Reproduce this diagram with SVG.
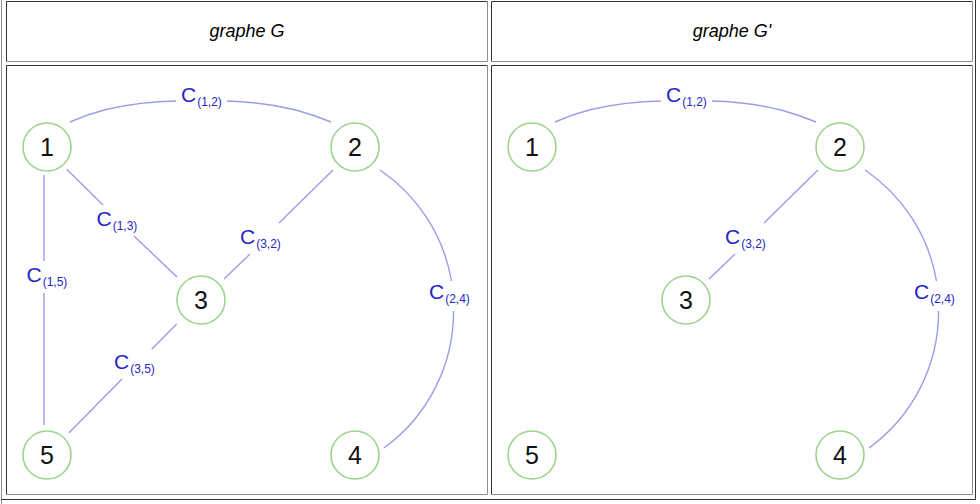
<svg xmlns="http://www.w3.org/2000/svg" width="980" height="504" viewBox="0 0 980 504">
<style>
.bg{fill:#ffffff}
.dk{stroke:#333333;stroke-width:1;fill:none}
.lt{stroke:#8e8e8e;stroke-width:1;fill:none}
.hdr{font-family:"Liberation Sans",Arial,sans-serif;font-style:italic;font-size:18px;fill:#000;text-anchor:middle}
.node circle{fill:#ffffff;stroke:#9bd58d;stroke-width:1.6}
.node text{font-family:"Liberation Sans",Arial,sans-serif;font-size:25px;fill:#111111;text-anchor:middle}
.edge path{fill:none;stroke:#9c9ce8;stroke-width:1.4}
.lbl{font-family:"Liberation Sans",Arial,sans-serif;font-size:21px;fill:#2525c8}
.sub{font-size:12px}
</style>
<rect class="bg" x="0" y="0" width="980" height="504"/>
<g id="table">
  <path class="lt" d="M1.5,504 V0"/>
  <path class="dk" d="M975.5,0 V499.5 H1"/>
  <path class="dk" d="M6.5,61.5 V1.5 H487.5"/>
  <path class="lt" d="M487.5,1.5 V61.5 H6.5"/>
  <path class="dk" d="M491.5,61.5 V1.5 H972.5"/>
  <path class="lt" d="M972.5,1.5 V61.5 H491.5"/>
  <path class="dk" d="M6.5,494.5 V65.5 H487.5"/>
  <path class="lt" d="M487.5,65.5 V494.5 H6.5"/>
  <path class="dk" d="M491.5,494.5 V65.5 H972.5"/>
  <path class="lt" d="M972.5,65.5 V494.5 H491.5"/>
  <text class="hdr" x="247" y="37">graphe G</text>
  <text class="hdr" x="732" y="37">graphe G'</text>
</g>
<g id="connectors">
  <g id="G-e12" class="edge">
    <path d="M70,122 Q88,114 106,109.5 Q141,101.5 176,101"/>
    <path d="M227,101 Q264,102 296,110 Q314,115 331,122"/>
    <text class="lbl" x="181" y="102">C<tspan class="sub" dx="1" dy="4">(1,2)</tspan></text>
  </g>
  <g id="G-e13" class="edge">
    <path d="M66.7,169.3 L103,205"/>
    <path d="M134,236 L177,277"/>
    <text class="lbl" x="96.5" y="226">C<tspan class="sub" dx="1" dy="4">(1,3)</tspan></text>
  </g>
  <g id="G-e15" class="edge">
    <path d="M44,175 V261"/>
    <path d="M44,293 V425"/>
    <text class="lbl" x="26.5" y="282">C<tspan class="sub" dx="1" dy="4">(1,5)</tspan></text>
  </g>
  <g id="G-e32" class="edge">
    <path d="M224,279 L250,254"/>
    <path d="M279,223 L333,170"/>
    <text class="lbl" x="240" y="244">C<tspan class="sub" dx="1" dy="4">(3,2)</tspan></text>
  </g>
  <g id="G-e35" class="edge">
    <path d="M176.7,324 L151.7,349.3"/>
    <path d="M122,379 L69,432.7"/>
    <text class="lbl" x="114" y="369">C<tspan class="sub" dx="1" dy="4">(3,5)</tspan></text>
  </g>
  <g id="G-e24" class="edge">
    <path d="M380,170 A169,169 0 0 1 451.5,281"/>
    <path d="M453.6,311 A169,169 0 0 1 384,448"/>
    <text class="lbl" x="429" y="299">C<tspan class="sub" dx="1" dy="4">(2,4)</tspan></text>
  </g>
  <g id="Gp-e12" class="edge" transform="translate(485,0)">
    <path d="M70,122 Q88,114 106,109.5 Q141,101.5 176,101"/>
    <path d="M227,101 Q264,102 296,110 Q314,115 331,122"/>
    <text class="lbl" x="181" y="102">C<tspan class="sub" dx="1" dy="4">(1,2)</tspan></text>
  </g>
  <g id="Gp-e32" class="edge" transform="translate(485,0)">
    <path d="M224,279 L250,254"/>
    <path d="M279,223 L333,170"/>
    <text class="lbl" x="240" y="244">C<tspan class="sub" dx="1" dy="4">(3,2)</tspan></text>
  </g>
  <g id="Gp-e24" class="edge" transform="translate(485,0)">
    <path d="M380,170 A169,169 0 0 1 451.5,281"/>
    <path d="M453.6,311 A169,169 0 0 1 384,448"/>
    <text class="lbl" x="429" y="299">C<tspan class="sub" dx="1" dy="4">(2,4)</tspan></text>
  </g>
</g>
<g id="G-n1" class="node"><circle cx="47" cy="147" r="24"/><text x="47" y="156">1</text></g>
<g id="G-n2" class="node"><circle cx="355" cy="147" r="24"/><text x="355" y="156">2</text></g>
<g id="G-n3" class="node"><circle cx="201" cy="300" r="24"/><text x="201" y="309">3</text></g>
<g id="G-n4" class="node"><circle cx="355" cy="455" r="24"/><text x="355" y="464">4</text></g>
<g id="G-n5" class="node"><circle cx="47" cy="455" r="24"/><text x="47" y="464">5</text></g>
<g id="Gp-n1" class="node"><circle cx="532" cy="147" r="24"/><text x="532" y="156">1</text></g>
<g id="Gp-n2" class="node"><circle cx="840" cy="147" r="24"/><text x="840" y="156">2</text></g>
<g id="Gp-n3" class="node"><circle cx="686" cy="300" r="24"/><text x="686" y="309">3</text></g>
<g id="Gp-n4" class="node"><circle cx="840" cy="455" r="24"/><text x="840" y="464">4</text></g>
<g id="Gp-n5" class="node"><circle cx="532" cy="455" r="24"/><text x="532" y="464">5</text></g>
</svg>
